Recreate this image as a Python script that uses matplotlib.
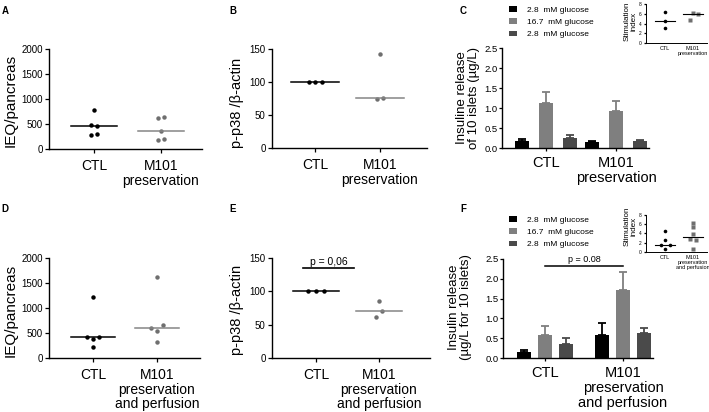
import matplotlib
matplotlib.use("Agg")
import matplotlib.pyplot as plt
import numpy as np

plt.rcParams["font.family"] = ["Liberation Sans", "DejaVu Sans"]

W, H = 709, 412

# ---- data ----
groups_pres = ["CTL", "M101\npreservation"]
groups_perf = ["CTL", "M101\npreservation\nand perfusion"]

ieq_ctl_a = [788, 485, 451, 276, 303]
ieq_m101_a = [613, 640, 370, 182, 209]
ieq_ctl_d = [1220, 420, 387, 420, 227]
ieq_m101_d = [1613, 607, 660, 547, 327]

p38_ctl_b = [100, 100, 100]
p38_m101_b = [142, 74, 76]
p38_ctl_e = [100, 100, 100]
p38_m101_e = [86, 70, 61.5]

legend_labels = ["2.8  mM glucose", "16.7  mM glucose", "2.8  mM glucose"]
ins_ctl_c = [0.18, 1.13, 0.25]
ins_ctl_c_err = [0.04, 0.26, 0.08]
ins_m101_c = [0.14, 0.935, 0.165]
ins_m101_c_err = [0.03, 0.24, 0.035]
ins_ctl_f = [0.15, 0.57, 0.36]
ins_ctl_f_err = [0.05, 0.23, 0.14]
ins_m101_f = [0.59, 1.72, 0.62]
ins_m101_f_err = [0.29, 0.46, 0.15]

si_ctl_c = [6.3, 4.6, 3.0]
si_m101_c = [6.1, 5.9, 4.7]
si_ctl_f = [4.5, 2.5, 1.5, 1.6, 0.6]
si_m101_f = [6.3, 5.5, 3.8, 2.8, 2.5, 0.7]

BAR_COLORS = ["#000000", "#7f7f7f", "#4a4a4a"]
GRAY = "#6f6f6f"


def px_axes(fig, left, top, right, bottom):
    return fig.add_axes([left / W, 1 - bottom / H, (right - left) / W, (bottom - top) / H])


def style(ax, fs=7, tick_len=3, pad=1.5):
    for s in ["top", "right"]:
        ax.spines[s].set_visible(False)
    for s in ["left", "bottom"]:
        ax.spines[s].set_linewidth(1.0)
    ax.tick_params(axis="y", labelsize=fs, length=tick_len, width=0.9, pad=pad)
    ax.tick_params(axis="x", length=tick_len, width=0.9)


def dot_panel(ax, ctl, m101, off_c, off_m, half, xlim, ylim, yticks, labels):
    ax.plot(1 + np.array(off_c), ctl, "o", color="black", ms=3.2, mec="none", clip_on=False)
    ax.plot(2 + np.array(off_m), m101, "o", color=GRAY, ms=3.2, mec="none", clip_on=False)
    ax.plot([1 - half, 1 + half], [np.median(ctl)] * 2, color="black", lw=1.1)
    ax.plot([2 - half, 2 + half], [np.median(m101)] * 2, color="#858585", lw=1.1)
    ax.set_xlim(*xlim)
    ax.set_ylim(*ylim)
    ax.set_yticks(yticks)
    ax.set_xticks([1, 2])
    ax.set_xticklabels(labels, fontsize=10, linespacing=1.08)
    ax.tick_params(axis="x", pad=4)


def bar_panel(ax, ctl, ctl_err, m101, m101_err, off, width, xlim, labels):
    for i in range(3):
        xs = np.array([0, 1]) + (i - 1) * off
        vals = [ctl[i], m101[i]]
        errs = [ctl_err[i], m101_err[i]]
        ax.bar(xs, vals, width, color=BAR_COLORS[i], label=legend_labels[i], zorder=2)
        ax.errorbar(xs, vals, yerr=[[0, 0], errs], fmt="none", ecolor=BAR_COLORS[i],
                    elinewidth=1.3, capsize=2.7, capthick=1.3, zorder=1)
    ax.set_xlim(*xlim)
    ax.set_ylim(0, 2.5)
    ax.set_yticks([0, 0.5, 1.0, 1.5, 2.0, 2.5])
    ax.set_yticklabels(["0.0", "0.5", "1.0", "1.5", "2.0", "2.5"])
    ax.set_xticks([0, 1])
    ax.set_xticklabels(labels, fontsize=10.5, linespacing=1.08)
    ax.tick_params(axis="x", pad=4, length=2)


def add_legend(ax, top):
    ax.legend(loc="upper left", bbox_to_anchor=(509 / W, 1 - top / H), bbox_transform=fig.transFigure,
              frameon=False, fontsize=6, handlelength=1.0, handleheight=0.65, handletextpad=1.2,
              labelspacing=0.55, borderpad=0, borderaxespad=0)


def inset(fig, top, bottom, ctl, m101, off_c, off_m, labels, label_y):
    ax = px_axes(fig, 646, top, 707, bottom)
    style(ax, fs=3.5, tick_len=1.5)
    ax.plot(1 + np.array(off_c), ctl, "o", color="black", ms=2.6, mec="none", clip_on=False)
    ax.plot(2 + np.array(off_m), m101, "s", color=GRAY, ms=2.4, mec="none", clip_on=False)
    ax.plot([0.64, 1.36], [np.median(ctl)] * 2, color="black", lw=0.8)
    ax.plot([1.64, 2.36], [np.median(m101)] * 2, color="black", lw=0.8)
    ax.set_xlim(0.32, 2.5)
    ax.set_ylim(0, 8)
    ax.set_yticks([0, 2, 4, 6, 8])
    ax.set_xticks([1, 2])
    ax.set_xticklabels(labels, fontsize=4.0, linespacing=1.0)
    ax.tick_params(axis="x", length=0, pad=2.5)
    ax.tick_params(axis="y", pad=1.5)
    for s in ["left", "bottom"]:
        ax.spines[s].set_linewidth(0.7)
    fig.text(631 / W, 1 - label_y / H, "Stimulation\nindex", rotation=90,
             ha="center", va="center", fontsize=5.8, linespacing=1.0)
    return ax


fig = plt.figure(figsize=(W / 100, H / 100), dpi=100)

# A
ax = px_axes(fig, 49, 49, 202, 149)
style(ax)
dot_panel(ax, ieq_ctl_a, ieq_m101_a, [0, -0.05, 0.05, -0.05, 0.05], [-0.05, 0.05, 0, -0.05, 0.05],
          0.34, (1 - 45 / 67, 2 + 41 / 67), (0, 2000), [0, 500, 1000, 1500, 2000], groups_pres)
fig.text(11 / W, 1 - 100 / H, "IEQ/pancreas", rotation=90, ha="center", va="center", fontsize=11)

# D
ax = px_axes(fig, 49, 258, 200, 358)
style(ax)
dot_panel(ax, ieq_ctl_d, ieq_m101_d, [0, -0.09, 0, 0.09, 0], [0, -0.09, 0.09, 0, 0],
          0.35, (1 - 44 / 64, 2 + 43 / 64), (0, 2000), [0, 500, 1000, 1500, 2000], groups_perf)
fig.text(11 / W, 1 - 310 / H, "IEQ/pancreas", rotation=90, ha="center", va="center", fontsize=11)

# B
ax = px_axes(fig, 272, 49, 427, 148)
style(ax)
dot_panel(ax, p38_ctl_b, p38_m101_b, [-0.09, 0, 0.1], [0, -0.05, 0.05],
          0.37, (1 - 43 / 65, 2 + 47 / 65), (0, 150), [0, 50, 100, 150], groups_pres)
fig.text(237 / W, 1 - 103 / H, "p-p38 /β-actin", rotation=90, ha="center", va="center", fontsize=10.5)

# E
ax = px_axes(fig, 272, 258, 430, 358)
style(ax)
dot_panel(ax, p38_ctl_e, p38_m101_e, [-0.12, 0, 0.12], [0, 0.05, -0.05],
          0.36, (1 - 44 / 63, 2 + 51 / 63), (0, 150), [0, 50, 100, 150], groups_perf)
ax.plot([0.8, 1.6], [135, 135], color="black", lw=1.2)
ax.text(1.2, 137, "p = 0,06", ha="center", va="bottom", fontsize=7.5)
fig.text(237 / W, 1 - 310 / H, "p-p38 /β-actin", rotation=90, ha="center", va="center", fontsize=10.5)

# C
ax = px_axes(fig, 502, 48, 649, 148)
style(ax, fs=6.8, tick_len=2, pad=1)
bar_panel(ax, ins_ctl_c, ins_ctl_c_err, ins_m101_c, ins_m101_c_err, 0.336, 0.2,
          (-44 / 70, 1 + 33 / 70), groups_pres)
add_legend(ax, 6)
fig.text(468 / W, 1 - 98 / H, "Insuline release\nof 10 islets (µg/L)", rotation=90,
         ha="center", va="center", fontsize=9.5, linespacing=1.05)

# F
ax = px_axes(fig, 503, 259, 653, 358)
style(ax, fs=6.8, tick_len=2, pad=1)
bar_panel(ax, ins_ctl_f, ins_ctl_f_err, ins_m101_f, ins_m101_f_err, 0.27, 0.19,
          (-42 / 78, 1 + 30 / 78), groups_perf)
ax.plot([0, 1], [2.33, 2.33], color="black", lw=1.1)
ax.text(0.5, 2.38, "p = 0.08", ha="center", va="bottom", fontsize=6.5)
add_legend(ax, 216)
fig.text(460 / W, 1 - 307 / H, "Insulin release\n(µg/L for 10 islets)", rotation=90,
         ha="center", va="center", fontsize=9.5, linespacing=1.05)

# insets
inset(fig, 4, 43, si_ctl_c, si_m101_c, [0, 0, 0], [0, 0.18, -0.1], ["CTL", "M101\npreservation"], 21.5)
inset(fig, 215, 252, si_ctl_f, si_m101_f, [0, 0, -0.16, 0.16, 0], [0, 0, 0, -0.12, 0.12, 0],
      ["CTL", "M101\npreservation\nand perfusion"], 226)

# panel letters
for letter, x, y in [("A", 5, 11), ("B", 233, 11), ("C", 463, 11),
                     ("D", 5, 209), ("E", 233, 209), ("F", 463, 209)]:
    fig.text(x / W, 1 - y / H, letter, fontsize=7, fontweight="bold", ha="center", va="center")

fig.savefig("out.png", dpi=100)
